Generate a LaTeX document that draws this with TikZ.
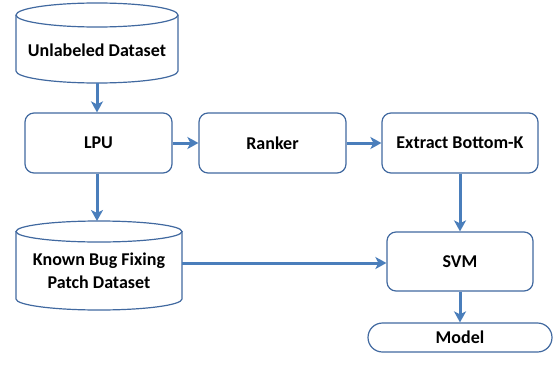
\documentclass[tikz,border=0pt]{standalone}
\usepackage{fontspec}
\setmainfont{Carlito}
\usetikzlibrary{arrows.meta}
\definecolor{edgeblue}{RGB}{65,105,160}
\definecolor{arrowblue}{RGB}{74,126,187}
\tikzset{
  x=1pt, y=-1pt,
  box/.style={draw=edgeblue, line width=1.2pt, rounded corners=9pt, fill=white},
  cyl/.style={draw=edgeblue, line width=1.2pt, fill=white},
  lbl/.style={font=\fontsize{18}{21}\selectfont\bfseries, align=center, inner sep=0pt},
  conn/.style={draw=arrowblue, line width=3pt, -{Stealth[length=11pt, width=12pt, inset=3pt]}},
}
\begin{document}
\begin{tikzpicture}
\useasboundingbox (0,0) rectangle (553,364);
% cylinder 1
\path[cyl] (16,15) -- (16,71) arc[start angle=180, end angle=0, x radius=81, y radius=12] -- (178,15);
\path[cyl] (97,15) ellipse[x radius=81, y radius=12];
\node[lbl] (unl) at (97,50) {Unlabeled Dataset};
\coordinate (unlb) at (97,83);
% cylinder 2
\path[cyl] (16,231.5) -- (16,299) arc[start angle=180, end angle=0, x radius=83, y radius=11] -- (182,231.5);
\path[cyl] (99,231.5) ellipse[x radius=83, y radius=10.5];
\node[lbl] (kb) at (99,271) {Known Bug Fixing\\[2pt]Patch Dataset};
\coordinate (kbt) at (97,221);
\coordinate (kbr) at (182,263);
% boxes
\node[box, minimum width=147pt, minimum height=60pt] (lpu) at (98.5,143) {};
\node[lbl] at (lpu) {LPU};
\node[box, minimum width=147pt, minimum height=60pt] (rank) at (272.5,143) {};
\node[lbl] at (rank) {Ranker};
\node[box, minimum width=156pt, minimum height=60pt] (ext) at (460,143) {};
\node[lbl] at (ext) {Extract Bottom-K};
\node[box, minimum width=146pt, minimum height=59pt] (svm) at (460,261.5) {};
\node[lbl] at (svm) {SVM};
\node[draw=edgeblue, line width=1.2pt, rounded corners=14.5pt, fill=white, minimum width=184pt, minimum height=29pt] (model) at (460,337.5) {};
\node[lbl] at (model) {Model};
% connectors
\draw[conn] (unlb) -- (lpu.north -| unlb);
\draw[conn] (lpu.south -| kbt) -- (kbt);
\draw[conn] (lpu.east) -- (rank.west);
\draw[conn] (rank.east) -- (ext.west);
\draw[conn] (ext.south) -- (svm.north);
\draw[conn] (kbr) -- (svm.west |- kbr);
\draw[conn] (svm.south) -- (model.north);
\end{tikzpicture}
\end{document}
